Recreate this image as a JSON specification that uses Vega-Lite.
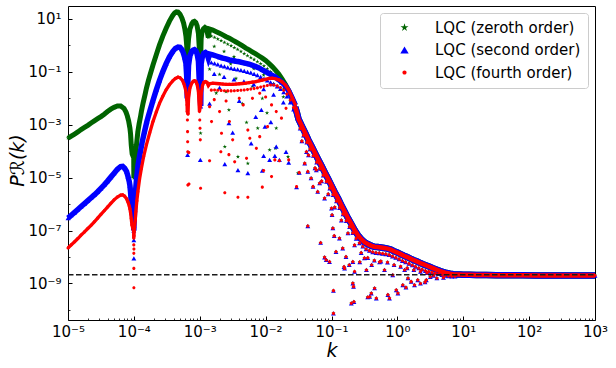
{
"$schema": "https://vega.github.io/schema/vega-lite/v6.json",
"width": 527, "height": 314,
"autosize": {"type": "none"},
"padding": {"left": 68, "top": 6, "right": 21, "bottom": 48},
"background": "white",
"config": {
 "view": {"stroke": "black", "strokeWidth": 1},
 "font": "DejaVu Sans",
 "axis": {"grid": false, "domain": false, "labelFont": "DejaVu Sans", "labelFontSize": 15, "labelColor": "black", "tickColor": "black", "titleFont": "DejaVu Sans", "titleColor": "black", "titleFontWeight": "normal"},
 "range": {"category": ["#006400", "#0000ff", "#ff0000"], "symbol": ["M0,-1L0.22,-0.31L0.95,-0.31L0.36,0.12L0.59,0.81L0,0.38L-0.59,0.81L-0.36,0.12L-0.95,-0.31L-0.22,-0.31Z", "triangle-up", "M-0.5,0A0.5,0.5,0,1,0,0.5,0A0.5,0.5,0,1,0,-0.5,0Z"]},
 "legend": {"orient": "top-right", "offset": 7, "padding": 7, "strokeColor": "#cccccc", "fillColor": "white", "cornerRadius": 3, "labelFont": "DejaVu Sans", "labelFontSize": 15, "labelColor": "black", "labelOffset": 23, "symbolOffset": 10, "symbolSize": 70, "rowPadding": 6.5, "symbolStrokeWidth": 0, "labelLimit": 0}
},
"datasets": {
"zl": [
{"k":1e-5,"p":3.09e-4},{"k":1.12e-5,"p":3.72e-4},{"k":1.26e-5,"p":4.47e-4},{"k":1.41e-5,"p":5.37e-4},{"k":1.58e-5,"p":6.61e-4},{"k":1.78e-5,"p":7.94e-4},{"k":2e-5,"p":9.55e-4},{"k":2.24e-5,"p":1.17e-3},{"k":2.51e-5,"p":1.41e-3},{"k":2.82e-5,"p":1.7e-3},{"k":3.16e-5,"p":2.04e-3},{"k":3.55e-5,"p":2.51e-3},{"k":3.98e-5,"p":3.16e-3},{"k":4.47e-5,"p":3.89e-3},{"k":5.01e-5,"p":4.57e-3},{"k":5.62e-5,"p":5.13e-3},{"k":6.31e-5,"p":5.13e-3},{"k":7.08e-5,"p":4.17e-3},{"k":7.59e-5,"p":3.02e-3},{"k":7.94e-5,"p":2.19e-3},{"k":8.32e-5,"p":1.41e-3},{"k":8.71e-5,"p":7.41e-4},{"k":8.91e-5,"p":4.47e-4},{"k":9.12e-5,"p":1.74e-4},{"k":9.42e-5,"p":7.9e-5},
{"k":9.95e-5,"p":5.62e-5},{"k":9.97e-5,"p":2.51e-5},{"k":1e-4,"p":9.55e-6},{"k":1.002e-4,"p":1.78e-5},{"k":1.004e-4,"p":3.55e-5},
{"k":1.035e-4,"p":3.55e-5},{"k":1.07e-4,"p":9.55e-5},{"k":1.11e-4,"p":2.4e-4},{"k":1.15e-4,"p":5.5e-4},{"k":1.2e-4,"p":1.07e-3},{"k":1.26e-4,"p":2e-3},{"k":1.3e-4,"p":3.16e-3},{"k":1.38e-4,"p":6.61e-3},{"k":1.48e-4,"p":1.41e-2},{"k":1.55e-4,"p":2.4e-2},{"k":1.66e-4,"p":4.68e-2},{"k":1.78e-4,"p":8.51e-2},{"k":1.95e-4,"p":0.182},{"k":2.14e-4,"p":0.372},{"k":2.29e-4,"p":0.631},{"k":2.45e-4,"p":1.05},{"k":2.75e-4,"p":2.24},{"k":3.09e-4,"p":4.47},{"k":3.47e-4,"p":8.32},{"k":3.89e-4,"p":13.5},{"k":4.17e-4,"p":17},{"k":4.42e-4,"p":18.6},{"k":4.68e-4,"p":18.2},{"k":5.01e-4,"p":15.1},{"k":5.37e-4,"p":10.7},{"k":5.69e-4,"p":6.92},{"k":5.96e-4,"p":3.98},{"k":6.17e-4,"p":2.24},
{"k":6.34e-4,"p":1},{"k":6.43e-4,"p":0.355},{"k":6.55e-4,"p":0.63},
{"k":6.76e-4,"p":1.78},{"k":7.08e-4,"p":4.17},{"k":7.59e-4,"p":6.61},{"k":7.94e-4,"p":7.76},{"k":8.32e-4,"p":8.13},{"k":8.71e-4,"p":7.41},{"k":9.12e-4,"p":5.5},{"k":9.55e-4,"p":2.82},
{"k":9.89e-4,"p":0.631},{"k":1.02e-3,"p":0.1},
{"k":1.05e-3,"p":1.78},{"k":1.08e-3,"p":3.16},{"k":1.14e-3,"p":4.27},{"k":1.2e-3,"p":4.79},{"k":1.26e-3,"p":4.37},{"k":1.3e-3,"p":3.16},{"k":1.35e-3,"p":2},
{"k":1.41e-3,"p":4.17},{"k":1.58e-3,"p":3.8},{"k":1.78e-3,"p":3.31},{"k":2e-3,"p":2.88},{"k":2.24e-3,"p":2.51},{"k":2.51e-3,"p":2.14},{"k":2.82e-3,"p":1.86},{"k":3.16e-3,"p":1.58},{"k":3.55e-3,"p":1.35},{"k":3.98e-3,"p":1.15},{"k":4.47e-3,"p":0.955},{"k":5.01e-3,"p":0.794},{"k":5.62e-3,"p":0.676},{"k":6.31e-3,"p":0.562},{"k":7.08e-3,"p":0.479},{"k":7.94e-3,"p":0.398},{"k":8.91e-3,"p":0.331},{"k":1e-2,"p":0.269},{"k":1.12e-2,"p":0.209},{"k":1.26e-2,"p":0.158},{"k":1.41e-2,"p":0.117},{"k":1.58e-2,"p":8.32e-2},{"k":1.78e-2,"p":5.37e-2},{"k":2e-2,"p":3.31e-2},{"k":2.24e-2,"p":1.95e-2},{"k":2.51e-2,"p":1.05e-2},{"k":2.82e-2,"p":5.5e-3}
],
"z": [
{"k":1.03e-3,"p":4.79e-4},
{"k":1.5e-3,"p":2.24},{"k":1.68e-3,"p":2},{"k":1.88e-3,"p":1.74},{"k":2.11e-3,"p":1.51},{"k":2.37e-3,"p":1.3},{"k":2.66e-3,"p":1.12},{"k":2.99e-3,"p":0.966},{"k":3.35e-3,"p":0.822},{"k":3.76e-3,"p":0.7},{"k":4.22e-3,"p":0.589},{"k":4.73e-3,"p":0.49},{"k":5.31e-3,"p":0.412},{"k":5.96e-3,"p":0.347},{"k":6.68e-3,"p":0.292},{"k":7.5e-3,"p":0.245},{"k":8.41e-3,"p":0.204},{"k":9.44e-3,"p":0.168},{"k":1.06e-2,"p":0.133},{"k":1.19e-2,"p":0.102},{"k":1.33e-2,"p":7.67e-2},{"k":1.5e-2,"p":5.62e-2},{"k":1.68e-2,"p":3.76e-2},{"k":1.88e-2,"p":2.37e-2},{"k":2.11e-2,"p":1.43e-2},{"k":2.37e-2,"p":8.04e-3},{"k":2.66e-2,"p":4.27e-3},
{"k":1.66e-3,"p":0.912},{"k":2.34e-3,"p":0.589},{"k":3.31e-3,"p":0.372},{"k":4.68e-3,"p":0.224},{"k":6.61e-3,"p":0.132},{"k":9.33e-3,"p":7.59e-2},{"k":1.32e-2,"p":3.55e-2},{"k":1.86e-2,"p":1.12e-2},
{"k":2.77e-3,"p":3.63e-3},{"k":2.4e-3,"p":1.48e-4},{"k":3.8e-3,"p":6.17e-5},{"k":5.37e-3,"p":3.47e-5},{"k":5.13e-3,"p":1.23e-3},{"k":1.45e-2,"p":7.41e-4},{"k":1.15e-2,"p":1.12e-4},{"k":1.41e-2,"p":1.29e-4},{"k":2.19e-2,"p":6.17e-5},{"k":3.09e-2,"p":1.48e-5},{"k":7.59e-3,"p":7.41e-4},{"k":2e-3,"p":7.94e-2},{"k":3.55e-3,"p":5.62e-2},{"k":6.31e-3,"p":2.82e-2},{"k":8.91e-3,"p":1e-2},{"k":2.51e-3,"p":1.78e-2},{"k":4.47e-3,"p":6.31e-3},{"k":1.05e-2,"p":2.82e-3},{"k":1.78e-3,"p":1.58e-2},{"k":1.41e-3,"p":0.126},{"k":2.95e-3,"p":0.2}
],
"sl": [
{"k":1e-5,"p":2.95e-7},{"k":1.12e-5,"p":3.8e-7},{"k":1.26e-5,"p":4.9e-7},{"k":1.41e-5,"p":6.31e-7},{"k":1.58e-5,"p":8.13e-7},{"k":1.78e-5,"p":1.05e-6},{"k":2e-5,"p":1.35e-6},{"k":2.24e-5,"p":1.74e-6},{"k":2.51e-5,"p":2.24e-6},{"k":2.82e-5,"p":2.95e-6},{"k":3.16e-5,"p":3.98e-6},{"k":3.55e-5,"p":5.37e-6},{"k":3.98e-5,"p":7.41e-6},{"k":4.47e-5,"p":1.05e-5},{"k":5.01e-5,"p":1.48e-5},{"k":5.62e-5,"p":2.09e-5},{"k":6.31e-5,"p":2.63e-5},{"k":6.76e-5,"p":2.69e-5},{"k":7.24e-5,"p":2.29e-5},{"k":7.76e-5,"p":1.7e-5},{"k":8.13e-5,"p":1.12e-5},{"k":8.51e-5,"p":7.08e-6},{"k":8.71e-5,"p":5.01e-6},{"k":8.91e-5,"p":2.82e-6},{"k":9.12e-5,"p":1.23e-6},{"k":9.33e-5,"p":5.01e-7},
{"k":9.94e-5,"p":2.51e-7},{"k":9.97e-5,"p":1e-7},{"k":1.003e-4,"p":1.58e-7},
{"k":1.02e-4,"p":4.47e-7},{"k":1.05e-4,"p":1.58e-6},{"k":1.07e-4,"p":4.17e-6},{"k":1.1e-4,"p":9.55e-6},{"k":1.16e-4,"p":3.02e-5},{"k":1.23e-4,"p":7.24e-5},{"k":1.33e-4,"p":2.09e-4},{"k":1.45e-4,"p":5.5e-4},{"k":1.58e-4,"p":1.38e-3},{"k":1.74e-4,"p":3.16e-3},{"k":1.95e-4,"p":8.32e-3},{"k":2.19e-4,"p":2.09e-2},{"k":2.45e-4,"p":4.79e-2},{"k":2.75e-4,"p":0.102},{"k":3.09e-4,"p":0.204},{"k":3.47e-4,"p":0.372},{"k":3.89e-4,"p":0.589},{"k":4.27e-4,"p":0.776},{"k":4.68e-4,"p":0.871},{"k":5.01e-4,"p":0.851},{"k":5.37e-4,"p":0.692},{"k":5.62e-4,"p":0.525},{"k":5.89e-4,"p":0.355},{"k":6.17e-4,"p":0.209},
{"k":6.35e-4,"p":6.31e-2},{"k":6.46e-4,"p":1e-2},{"k":6.61e-4,"p":3.98e-2},
{"k":6.76e-4,"p":0.178},{"k":7.08e-4,"p":0.398},{"k":7.59e-4,"p":0.603},{"k":7.94e-4,"p":0.661},{"k":8.32e-4,"p":0.692},{"k":8.71e-4,"p":0.631},{"k":9.12e-4,"p":0.479},{"k":9.55e-4,"p":0.251},
{"k":9.89e-4,"p":3.16e-2},{"k":1.035e-3,"p":5.01e-3},
{"k":1.05e-3,"p":0.2},{"k":1.1e-3,"p":0.398},{"k":1.15e-3,"p":0.501},{"k":1.22e-3,"p":0.537},{"k":1.29e-3,"p":0.479},{"k":1.35e-3,"p":0.331},
{"k":1.41e-3,"p":0.468},{"k":1.58e-3,"p":0.437},{"k":1.78e-3,"p":0.398},{"k":2e-3,"p":0.363},{"k":2.24e-3,"p":0.331},{"k":2.51e-3,"p":0.309},{"k":2.82e-3,"p":0.282},{"k":3.16e-3,"p":0.269},{"k":3.55e-3,"p":0.251},{"k":3.98e-3,"p":0.24},{"k":4.47e-3,"p":0.224},{"k":5.01e-3,"p":0.209},{"k":5.62e-3,"p":0.195},{"k":6.31e-3,"p":0.178},{"k":7.08e-3,"p":0.158},{"k":7.94e-3,"p":0.141},{"k":8.91e-3,"p":0.12},{"k":1e-2,"p":0.102},{"k":1.12e-2,"p":8.71e-2},{"k":1.26e-2,"p":7.41e-2},{"k":1.41e-2,"p":6.31e-2},{"k":1.58e-2,"p":5.13e-2},{"k":1.78e-2,"p":3.98e-2},{"k":2e-2,"p":2.95e-2},{"k":2.24e-2,"p":1.91e-2},{"k":2.51e-2,"p":1.05e-2},{"k":2.82e-2,"p":5.5e-3}
],
"s": [
{"k":9.99e-5,"p":4.37e-8},{"k":1e-4,"p":8.91e-9},{"k":6.53e-4,"p":7.24e-5},{"k":1.02e-3,"p":4.68e-5},
{"k":1.5e-3,"p":0.226},{"k":1.68e-3,"p":0.209},{"k":1.88e-3,"p":0.191},{"k":2.11e-3,"p":0.174},{"k":2.37e-3,"p":0.16},{"k":2.66e-3,"p":0.148},{"k":2.99e-3,"p":0.138},{"k":3.35e-3,"p":0.13},{"k":3.76e-3,"p":0.123},{"k":4.22e-3,"p":0.116},{"k":4.73e-3,"p":0.108},{"k":5.31e-3,"p":0.101},{"k":5.96e-3,"p":9.33e-2},{"k":6.68e-3,"p":8.41e-2},{"k":7.5e-3,"p":7.5e-2},{"k":8.41e-3,"p":6.53e-2},{"k":9.44e-3,"p":5.56e-2},{"k":1.06e-2,"p":4.73e-2},{"k":1.19e-2,"p":4.03e-2},{"k":1.33e-2,"p":3.43e-2},{"k":1.5e-2,"p":2.85e-2},{"k":1.68e-2,"p":2.26e-2},{"k":1.88e-2,"p":1.72e-2},{"k":2.11e-2,"p":1.19e-2},{"k":2.37e-2,"p":7.08e-3},{"k":2.66e-2,"p":3.8e-3},
{"k":1.66e-3,"p":8.32e-2},{"k":2.34e-3,"p":6.46e-2},{"k":3.31e-3,"p":5.25e-2},{"k":4.68e-3,"p":4.37e-2},{"k":6.61e-3,"p":3.39e-2},{"k":9.33e-3,"p":2.24e-2},{"k":1.32e-2,"p":1.38e-2},{"k":1.86e-2,"p":7.08e-3},
{"k":2.4e-3,"p":3.24e-5},{"k":3.8e-3,"p":1.95e-5},{"k":5.37e-3,"p":1.48e-5},{"k":2.77e-3,"p":1.15e-3},{"k":8.61e-3,"p":3.63e-3},{"k":9.77e-3,"p":8.51e-4},{"k":1.15e-2,"p":4.68e-5},{"k":1.45e-2,"p":1.48e-4},{"k":2.04e-2,"p":9.55e-5},{"k":2.95e-2,"p":4.37e-6},{"k":3.24e-2,"p":1.55e-5},{"k":8.91e-3,"p":1.86e-5},{"k":9.33e-3,"p":6.61e-5},{"k":1.38e-2,"p":6.61e-5},{"k":1.62e-2,"p":4.68e-5},{"k":2.24e-2,"p":3.72e-5},{"k":2e-3,"p":2.51e-2},{"k":3.98e-3,"p":7.94e-3},{"k":7.08e-3,"p":2e-3},{"k":1.41e-3,"p":6.31e-3},{"k":3.16e-3,"p":5.01e-4},{"k":1.2e-2,"p":1.26e-3},{"k":6.03e-3,"p":2e-4}
],
"fl": [
{"k":1e-5,"p":2.19e-8},{"k":1.12e-5,"p":2.88e-8},{"k":1.26e-5,"p":3.8e-8},{"k":1.41e-5,"p":5.01e-8},{"k":1.58e-5,"p":6.76e-8},{"k":1.78e-5,"p":8.91e-8},{"k":2e-5,"p":1.2e-7},{"k":2.24e-5,"p":1.58e-7},{"k":2.51e-5,"p":2.14e-7},{"k":2.82e-5,"p":2.95e-7},{"k":3.16e-5,"p":4.07e-7},{"k":3.55e-5,"p":5.62e-7},{"k":3.98e-5,"p":7.76e-7},{"k":4.47e-5,"p":1.07e-6},{"k":5.01e-5,"p":1.45e-6},{"k":5.62e-5,"p":1.86e-6},{"k":6.31e-5,"p":2.19e-6},{"k":6.76e-5,"p":2.24e-6},{"k":7.24e-5,"p":2e-6},{"k":7.76e-5,"p":1.58e-6},{"k":8.13e-5,"p":1.2e-6},{"k":8.51e-5,"p":8.51e-7},{"k":8.71e-5,"p":6.61e-7},{"k":8.91e-5,"p":4.68e-7},{"k":9.12e-5,"p":2.88e-7},{"k":9.33e-5,"p":1.62e-7},
{"k":9.93e-5,"p":9.12e-8},{"k":9.95e-5,"p":5.13e-8},{"k":1.004e-4,"p":6.31e-8},
{"k":1.02e-4,"p":1.26e-7},{"k":1.05e-4,"p":2.51e-7},{"k":1.07e-4,"p":5.13e-7},{"k":1.11e-4,"p":1.32e-6},{"k":1.15e-4,"p":2.95e-6},{"k":1.22e-4,"p":8.91e-6},{"k":1.3e-4,"p":2.24e-5},{"k":1.41e-4,"p":6.46e-5},{"k":1.55e-4,"p":1.74e-4},{"k":1.74e-4,"p":5.01e-4},{"k":1.95e-4,"p":1.32e-3},{"k":2.19e-4,"p":3.02e-3},{"k":2.45e-4,"p":6.46e-3},{"k":2.75e-4,"p":1.2e-2},{"k":3.09e-4,"p":2.09e-2},{"k":3.47e-4,"p":3.24e-2},{"k":3.89e-4,"p":4.57e-2},{"k":4.27e-4,"p":5.62e-2},{"k":4.68e-4,"p":6.31e-2},{"k":5.01e-4,"p":6.03e-2},{"k":5.43e-4,"p":4.9e-2},{"k":5.75e-4,"p":3.55e-2},{"k":6.1e-4,"p":2.09e-2},{"k":6.31e-4,"p":1.12e-2},
{"k":6.42e-4,"p":5.62e-3},{"k":6.46e-4,"p":3.16e-3},{"k":6.64e-4,"p":2.51e-3},
{"k":6.76e-4,"p":1e-2},{"k":7.08e-4,"p":2.4e-2},{"k":7.59e-4,"p":3.8e-2},{"k":7.94e-4,"p":4.37e-2},{"k":8.32e-4,"p":4.57e-2},{"k":8.71e-4,"p":4.37e-2},{"k":9.12e-4,"p":3.31e-2},{"k":9.55e-4,"p":1.78e-2},
{"k":9.9e-4,"p":3.16e-3},{"k":1.04e-3,"p":6.31e-3},
{"k":1.05e-3,"p":1.41e-2},{"k":1.1e-3,"p":3.02e-2},{"k":1.15e-3,"p":3.98e-2},{"k":1.22e-3,"p":4.27e-2},{"k":1.29e-3,"p":3.98e-2},{"k":1.35e-3,"p":3.02e-2},
{"k":1.41e-3,"p":3.55e-2},{"k":1.58e-3,"p":3.72e-2},{"k":1.78e-3,"p":3.63e-2},{"k":2e-3,"p":3.55e-2},{"k":2.24e-3,"p":3.47e-2},{"k":2.51e-3,"p":3.39e-2},{"k":2.82e-3,"p":3.39e-2},{"k":3.16e-3,"p":3.39e-2},{"k":3.55e-3,"p":3.47e-2},{"k":3.98e-3,"p":3.55e-2},{"k":4.47e-3,"p":3.63e-2},{"k":5.01e-3,"p":3.72e-2},{"k":5.62e-3,"p":3.89e-2},{"k":6.31e-3,"p":4.07e-2},{"k":7.08e-3,"p":4.27e-2},{"k":7.94e-3,"p":4.57e-2},{"k":8.91e-3,"p":4.9e-2},{"k":1e-2,"p":5.25e-2},{"k":1.12e-2,"p":5.62e-2},{"k":1.26e-2,"p":5.75e-2},{"k":1.41e-2,"p":5.5e-2},{"k":1.58e-2,"p":5.01e-2},{"k":1.78e-2,"p":4.17e-2},{"k":2e-2,"p":3.16e-2},{"k":2.24e-2,"p":2.09e-2},{"k":2.51e-2,"p":1.12e-2},{"k":2.82e-2,"p":5.75e-3}
],
"f": [
{"k":9.97e-5,"p":2.88e-8},{"k":9.98e-5,"p":1.38e-8},{"k":9.99e-5,"p":3.72e-9},{"k":1e-4,"p":6.92e-10},{"k":1.002e-4,"p":2e-8},
{"k":6.5e-4,"p":1.51e-3},{"k":6.53e-4,"p":5.5e-4},{"k":6.55e-4,"p":2.29e-4},{"k":6.58e-4,"p":9.55e-5},{"k":6.6e-4,"p":5.25e-6},{"k":6.84e-4,"p":8.91e-5},{"k":6.86e-4,"p":5.75e-6},
{"k":1e-3,"p":1.51e-3},{"k":1.01e-3,"p":7.41e-4},{"k":1.02e-3,"p":2.69e-4},{"k":1.03e-3,"p":3.98e-6},
{"k":1.5e-3,"p":2.04e-2},{"k":1.68e-3,"p":2.07e-2},{"k":1.88e-3,"p":2.02e-2},{"k":2.11e-3,"p":1.97e-2},{"k":2.37e-3,"p":1.93e-2},{"k":2.66e-3,"p":1.91e-2},{"k":2.99e-3,"p":1.91e-2},{"k":3.35e-3,"p":1.93e-2},{"k":3.76e-3,"p":1.97e-2},{"k":4.22e-3,"p":2.02e-2},{"k":4.73e-3,"p":2.07e-2},{"k":5.31e-3,"p":2.14e-2},{"k":5.96e-3,"p":2.24e-2},{"k":6.68e-3,"p":2.34e-2},{"k":7.5e-3,"p":2.48e-2},{"k":8.41e-3,"p":2.66e-2},{"k":9.44e-3,"p":2.85e-2},{"k":1.06e-2,"p":3.05e-2},{"k":1.19e-2,"p":3.2e-2},{"k":1.33e-2,"p":3.16e-2},{"k":1.5e-2,"p":2.95e-2},{"k":1.68e-2,"p":2.57e-2},{"k":1.88e-2,"p":2.04e-2},{"k":2.11e-2,"p":1.45e-2},{"k":2.37e-2,"p":8.61e-3},{"k":2.66e-2,"p":4.52e-3},
{"k":1.41e-3,"p":4.37e-5},{"k":2.09e-3,"p":9.55e-5},{"k":2.4e-3,"p":2.69e-6},{"k":2.77e-3,"p":7.41e-5},{"k":3.39e-3,"p":3.98e-5},{"k":3.8e-3,"p":1.82e-6},{"k":5.13e-3,"p":5.37e-5},{"k":5.37e-3,"p":1.82e-6},{"k":8.91e-3,"p":4.37e-6},{"k":9.33e-3,"p":1.86e-5},{"k":1.23e-2,"p":1.1e-5},{"k":1.38e-2,"p":4.68e-5},{"k":1.62e-2,"p":4.37e-5},{"k":2.24e-2,"p":4.68e-5},{"k":2.95e-2,"p":4.57e-6},{"k":3.24e-2,"p":1.55e-5},{"k":1.41e-3,"p":4.79e-3},{"k":1.51e-3,"p":1.32e-3},{"k":2e-3,"p":3.16e-3},{"k":2.14e-3,"p":4.79e-4},{"k":2.82e-3,"p":1.32e-3},{"k":3.16e-3,"p":2.69e-4},{"k":4.57e-3,"p":5.62e-3},{"k":5.37e-3,"p":6.31e-4},{"k":5.75e-3,"p":3.09e-4},{"k":7.24e-3,"p":1.29e-4},{"k":8.13e-3,"p":1.55e-2},{"k":8.13e-3,"p":3.55e-4},{"k":1.07e-2,"p":8.51e-4},{"k":1.23e-2,"p":5.62e-3},{"k":1.45e-2,"p":3.16e-3},{"k":1.74e-2,"p":1.78e-3},{"k":2.04e-2,"p":4.17e-3},{"k":1.66e-3,"p":8.91e-3},{"k":2.51e-3,"p":7.94e-3},{"k":3.98e-3,"p":1e-2},{"k":6.31e-3,"p":1e-2},{"k":1e-2,"p":1.12e-2}
],
"ce": [
{"k":2.82e-2,"p":4.6e-3},{"k":3e-2,"p":2.7e-3},
{"k":3.16e-2,"p":1.62e-3},{"k":3.55e-2,"p":8.9e-4},{"k":3.98e-2,"p":4.9e-4},{"k":4.47e-2,"p":2.63e-4},{"k":5.01e-2,"p":1.51e-4},{"k":5.62e-2,"p":8.49e-5},{"k":6.31e-2,"p":4.78e-5},{"k":7.08e-2,"p":2.75e-5},{"k":7.94e-2,"p":1.55e-5},{"k":8.91e-2,"p":8.9e-6},{"k":0.1,"p":5.02e-6},{"k":0.112,"p":2.82e-6},{"k":0.126,"p":1.62e-6},{"k":0.141,"p":9.15e-7},{"k":0.158,"p":5.25e-7},{"k":0.178,"p":2.95e-7},{"k":0.2,"p":1.78e-7},{"k":0.224,"p":1.05e-7},{"k":0.251,"p":6.76e-8},{"k":0.282,"p":4.78e-8},{"k":0.316,"p":3.64e-8},{"k":0.355,"p":3.1e-8},{"k":0.398,"p":2.7e-8},{"k":0.447,"p":2.45e-8},{"k":0.501,"p":2.4e-8},{"k":0.562,"p":2.29e-8},{"k":0.631,"p":2.19e-8},{"k":0.708,"p":2.09e-8},{"k":0.794,"p":1.91e-8},{"k":0.891,"p":1.66e-8},{"k":1,"p":1.48e-8},{"k":1.12,"p":1.29e-8},{"k":1.26,"p":1.12e-8},{"k":1.41,"p":9.98e-9},{"k":1.58,"p":8.74e-9},{"k":1.78,"p":7.59e-9},{"k":2,"p":6.76e-9},{"k":2.24,"p":5.89e-9},{"k":2.51,"p":5.25e-9},{"k":2.82,"p":4.68e-9},{"k":3.16,"p":4.17e-9},{"k":3.55,"p":3.72e-9},{"k":3.98,"p":3.31e-9},{"k":4.47,"p":2.95e-9},{"k":5.01,"p":2.7e-9},{"k":5.62,"p":2.48e-9},{"k":6.31,"p":2.35e-9},{"k":7.08,"p":2.25e-9},{"k":7.94,"p":2.2e-9},{"k":8.91,"p":2.17e-9},
{"k":10,"p":2.15e-9},{"k":12.6,"p":2.12e-9},{"k":15.8,"p":2.1e-9},{"k":22.4,"p":2.09e-9},{"k":31.6,"p":2.07e-9},{"k":50.1,"p":2.05e-9},{"k":79.4,"p":2.04e-9},{"k":126,"p":2.02e-9},{"k":200,"p":2e-9},{"k":316,"p":2e-9},{"k":501,"p":2e-9},{"k":708,"p":2e-9},{"k":1000,"p":2e-9}
],
"c": [
{"k":3.35e-2,"p":7.24e-4},{"k":3.76e-2,"p":3.98e-4},{"k":4.22e-2,"p":2.14e-4},{"k":4.73e-2,"p":1.2e-4},{"k":5.31e-2,"p":6.76e-5},{"k":5.96e-2,"p":3.8e-5},{"k":6.68e-2,"p":2.19e-5},{"k":7.5e-2,"p":1.23e-5},{"k":8.41e-2,"p":7.08e-6},{"k":9.44e-2,"p":3.98e-6},{"k":0.106,"p":2.24e-6},{"k":0.119,"p":1.29e-6},{"k":0.133,"p":7.24e-7},{"k":0.15,"p":4.17e-7},{"k":0.168,"p":2.34e-7},{"k":0.188,"p":1.38e-7},{"k":0.211,"p":8.13e-8},{"k":0.237,"p":5.01e-8},{"k":0.266,"p":3.39e-8},{"k":0.299,"p":2.51e-8},{"k":0.335,"p":2e-8},{"k":0.376,"p":1.74e-8},{"k":0.422,"p":1.55e-8},{"k":0.473,"p":1.45e-8},{"k":0.531,"p":1.41e-8},{"k":0.596,"p":1.35e-8},{"k":0.668,"p":1.29e-8},{"k":0.75,"p":1.2e-8},{"k":0.841,"p":1.07e-8},{"k":0.944,"p":9.55e-9},{"k":1.06,"p":8.32e-9},{"k":1.19,"p":7.24e-9},{"k":1.33,"p":6.46e-9},{"k":1.5,"p":5.62e-9},{"k":1.68,"p":4.9e-9},{"k":1.88,"p":4.37e-9},{"k":2.11,"p":3.8e-9},{"k":2.37,"p":3.39e-9},{"k":2.66,"p":3.02e-9},{"k":2.99,"p":2.82e-9},{"k":3.35,"p":2.63e-9},{"k":3.76,"p":2.45e-9},{"k":4.22,"p":2.29e-9},{"k":4.73,"p":2.14e-9},{"k":5.31,"p":2e-9},{"k":5.96,"p":1.91e-9},{"k":6.68,"p":1.86e-9},{"k":7.5,"p":1.86e-9},
{"k":0.282,"p":1.45e-8},{"k":0.355,"p":9.33e-9},{"k":0.447,"p":7.41e-9},{"k":0.562,"p":6.92e-9},{"k":0.708,"p":6.31e-9},{"k":0.891,"p":5.01e-9},{"k":1.12,"p":4.37e-9},{"k":1.41,"p":3.8e-9},{"k":1.78,"p":3.24e-9},{"k":2.24,"p":2.82e-9},{"k":2.82,"p":2.51e-9},{"k":3.55,"p":2e-9},{"k":3.55e-2,"p":2.4e-4},{"k":4.47e-2,"p":7.08e-5},{"k":5.62e-2,"p":2.29e-5},{"k":7.08e-2,"p":7.41e-6},{"k":8.91e-2,"p":2.4e-6},{"k":0.112,"p":7.59e-7},{"k":0.141,"p":2.45e-7},{"k":0.178,"p":7.94e-8},{"k":0.224,"p":2.82e-8},
{"k":3.92e-2,"p":3.47e-5},{"k":4.17e-2,"p":9.55e-5},{"k":4.37e-2,"p":1.7e-5},{"k":4.9e-2,"p":9.55e-6},{"k":5.89e-2,"p":1.95e-5},{"k":5.25e-2,"p":4.57e-6},{"k":6.61e-2,"p":6.17e-6},{"k":7.85e-2,"p":1.66e-6},{"k":6.17e-2,"p":2.95e-6},{"k":0.1,"p":6.92e-7},{"k":0.102,"p":3.89e-7},{"k":4.37e-2,"p":1.48e-7},{"k":0.105,"p":1.23e-7},{"k":0.11,"p":6.31e-8},{"k":0.132,"p":5.13e-8},{"k":6.84e-2,"p":3.47e-8},{"k":0.117,"p":1.58e-8},{"k":7.85e-2,"p":9.77e-9},{"k":8.32e-2,"p":7.76e-9},{"k":9.33e-2,"p":6.61e-9},{"k":0.166,"p":1.02e-8},{"k":0.155,"p":4.27e-9},{"k":0.186,"p":5.01e-9},{"k":0.211,"p":6.61e-9},{"k":0.224,"p":2.82e-9},{"k":0.107,"p":5.37e-10},{"k":0.211,"p":1.02e-9},{"k":0.216,"p":7.59e-10},{"k":0.402,"p":4.27e-10},{"k":0.451,"p":6.61e-10},{"k":0.38,"p":3.16e-10},{"k":0.479,"p":2.75e-10},{"k":0.2,"p":1.78e-10},{"k":0.219,"p":2.04e-10},{"k":0.718,"p":3.72e-10},{"k":0.759,"p":2.75e-10},{"k":0.962,"p":5.62e-10},{"k":1.02,"p":4.27e-10},{"k":1.21,"p":8.71e-10},{"k":0.107,"p":7.41e-11},{"k":0.148,"p":2.14e-8},{"k":0.158,"p":3.72e-9},{"k":0.339,"p":3.24e-9},{"k":0.355,"p":3.02e-10},{"k":1.45,"p":1.58e-9},{"k":1.62,"p":1.17e-9},{"k":1.82,"p":8.71e-10},{"k":2.04,"p":1.35e-9},{"k":2.75,"p":1.35e-9},{"k":0.269,"p":6.46e-9},{"k":0.316,"p":9.12e-9},{"k":0.407,"p":5.01e-9},{"k":0.537,"p":6.46e-9},{"k":0.638,"p":3.24e-9},{"k":0.851,"p":2.09e-9},{"k":1.29,"p":3.24e-9},{"k":3.16,"p":1.78e-9},{"k":3.98,"p":1.58e-9},{"k":5.01,"p":1.66e-9},{"k":2.24,"p":1e-9},{"k":2.63,"p":1.12e-9},{"k":1.35,"p":7.08e-10}
]
},
"encoding": {
 "x": {"field": "k", "type": "quantitative", "scale": {"type": "log", "domain": [1e-5, 1000], "nice": false}, "axis": null},
 "y": {"field": "p", "type": "quantitative", "scale": {"type": "log", "domain": [4.17e-11, 30.9], "nice": false}, "axis": null}
},
"resolve": {"axis": {"x": "independent", "y": "independent"}},
"layer": [
 {"data": {"name": "zl"},
  "mark": {"type": "line", "color": "#006400", "strokeWidth": 5},
  "encoding": {
   "x": {"field": "k", "type": "quantitative", "scale": {"type": "log", "domain": [1e-5, 1000], "nice": false},
    "axis": {"orient": "bottom", "values": [1e-5, 1e-4, 1e-3, 1e-2, 0.1, 1, 10, 100, 1000], "labelExpr": "'10' + ['⁻¹⁰','⁻⁹','⁻⁸','⁻⁷','⁻⁶','⁻⁵','⁻⁴','⁻³','⁻²','⁻¹','⁰','¹','²','³'][round(log(datum.value)/LN10)+10]", "tickSize": -4, "tickWidth": 1, "labelPadding": 8, "labelFlush": false, "labelOverlap": false, "labelBound": false, "title": "k", "titleFontSize": 19, "titleFontStyle": "italic", "titleY": 36.5, "titleBaseline": "alphabetic"}},
   "y": {"field": "p", "type": "quantitative", "scale": {"type": "log", "domain": [4.17e-11, 30.9], "nice": false},
    "axis": {"orient": "left", "values": [1e-9, 1e-7, 1e-5, 1e-3, 0.1, 10], "labelExpr": "'10' + ['⁻¹⁰','⁻⁹','⁻⁸','⁻⁷','⁻⁶','⁻⁵','⁻⁴','⁻³','⁻²','⁻¹','⁰','¹','²','³'][round(log(datum.value)/LN10)+10]", "tickSize": -4, "tickWidth": 1, "labelPadding": 11, "labelFlush": false, "labelOverlap": false, "labelBound": false, "title": "Pℛ(k)", "titleFontSize": 19, "titleFontStyle": "italic", "titleX": -51, "titleY": 154, "titleAngle": -90, "titleAlign": "center", "titleBaseline": "middle"}}
  }},
 {"data": {"name": "zl"},
  "mark": {"type": "point", "filled": true, "opacity": 1, "size": 20, "strokeWidth": 0},
  "encoding": {
   "x": {"field": "k", "type": "quantitative", "scale": {"type": "log", "domain": [1e-5, 1000], "nice": false},
    "axis": {"orient": "bottom", "values": [2e-5,3e-5,4e-5,5e-5,6e-5,7e-5,8e-5,9e-5,2e-4,3e-4,4e-4,5e-4,6e-4,7e-4,8e-4,9e-4,2e-3,3e-3,4e-3,5e-3,6e-3,7e-3,8e-3,9e-3,0.02,0.03,0.04,0.05,0.06,0.07,0.08,0.09,0.2,0.3,0.4,0.5,0.6,0.7,0.8,0.9,2,3,4,5,6,7,8,9,20,30,40,50,60,70,80,90,200,300,400,500,600,700,800,900], "labels": false, "tickSize": -2, "tickWidth": 0.8, "title": null}},
   "y": {"field": "p", "type": "quantitative", "scale": {"type": "log", "domain": [4.17e-11, 30.9], "nice": false},
    "axis": {"orient": "left", "values": [1, 0.01, 1e-4, 1e-6, 1e-8, 1e-10], "labels": false, "tickSize": -2, "tickWidth": 0.8, "title": null}},
   "color": {"datum": "LQC (zeroth order)", "type": "nominal", "scale": {"domain": ["LQC (zeroth order)", "LQC (second order)", "LQC (fourth order)"]}, "title": null},
   "shape": {"datum": "LQC (zeroth order)", "type": "nominal", "scale": {"domain": ["LQC (zeroth order)", "LQC (second order)", "LQC (fourth order)"]}, "title": null}
  }},
 {"data": {"name": "z"},
  "mark": {"type": "point", "filled": true, "opacity": 1, "size": 20, "strokeWidth": 0},
  "encoding": {
   "color": {"datum": "LQC (zeroth order)", "type": "nominal", "scale": {"domain": ["LQC (zeroth order)", "LQC (second order)", "LQC (fourth order)"]}, "title": null},
   "shape": {"datum": "LQC (zeroth order)", "type": "nominal", "scale": {"domain": ["LQC (zeroth order)", "LQC (second order)", "LQC (fourth order)"]}, "title": null}
  }},
 {"data": {"name": "ce"}, "mark": {"type": "line", "color": "#006400", "strokeWidth": 6.5}},
 {"data": {"name": "ce"},
  "mark": {"type": "point", "filled": true, "opacity": 1, "size": 20, "strokeWidth": 0},
  "encoding": {
   "color": {"datum": "LQC (zeroth order)", "type": "nominal", "scale": {"domain": ["LQC (zeroth order)", "LQC (second order)", "LQC (fourth order)"]}, "title": null},
   "shape": {"datum": "LQC (zeroth order)", "type": "nominal", "scale": {"domain": ["LQC (zeroth order)", "LQC (second order)", "LQC (fourth order)"]}, "title": null}
  }},
 {"data": {"name": "c"},
  "mark": {"type": "point", "filled": true, "opacity": 1, "size": 20, "strokeWidth": 0},
  "encoding": {
   "color": {"datum": "LQC (zeroth order)", "type": "nominal", "scale": {"domain": ["LQC (zeroth order)", "LQC (second order)", "LQC (fourth order)"]}, "title": null},
   "shape": {"datum": "LQC (zeroth order)", "type": "nominal", "scale": {"domain": ["LQC (zeroth order)", "LQC (second order)", "LQC (fourth order)"]}, "title": null}
  }},
 {"data": {"name": "sl"}, "mark": {"type": "line", "color": "#0000ff", "strokeWidth": 5.5}},
 {"data": {"name": "sl"},
  "mark": {"type": "point", "filled": true, "opacity": 1, "size": 24, "strokeWidth": 0},
  "encoding": {
   "color": {"datum": "LQC (second order)", "type": "nominal", "scale": {"domain": ["LQC (zeroth order)", "LQC (second order)", "LQC (fourth order)"]}, "title": null},
   "shape": {"datum": "LQC (second order)", "type": "nominal", "scale": {"domain": ["LQC (zeroth order)", "LQC (second order)", "LQC (fourth order)"]}, "title": null}
  }},
 {"data": {"name": "s"},
  "mark": {"type": "point", "filled": true, "opacity": 1, "size": 24, "strokeWidth": 0},
  "encoding": {
   "color": {"datum": "LQC (second order)", "type": "nominal", "scale": {"domain": ["LQC (zeroth order)", "LQC (second order)", "LQC (fourth order)"]}, "title": null},
   "shape": {"datum": "LQC (second order)", "type": "nominal", "scale": {"domain": ["LQC (zeroth order)", "LQC (second order)", "LQC (fourth order)"]}, "title": null}
  }},
 {"data": {"name": "ce"}, "mark": {"type": "line", "color": "#0000ff", "strokeWidth": 6.5}},
 {"data": {"name": "ce"},
  "mark": {"type": "point", "filled": true, "opacity": 1, "size": 24, "strokeWidth": 0},
  "encoding": {
   "color": {"datum": "LQC (second order)", "type": "nominal", "scale": {"domain": ["LQC (zeroth order)", "LQC (second order)", "LQC (fourth order)"]}, "title": null},
   "shape": {"datum": "LQC (second order)", "type": "nominal", "scale": {"domain": ["LQC (zeroth order)", "LQC (second order)", "LQC (fourth order)"]}, "title": null}
  }},
 {"data": {"name": "c"},
  "mark": {"type": "point", "filled": true, "opacity": 1, "size": 24, "strokeWidth": 0},
  "encoding": {
   "color": {"datum": "LQC (second order)", "type": "nominal", "scale": {"domain": ["LQC (zeroth order)", "LQC (second order)", "LQC (fourth order)"]}, "title": null},
   "shape": {"datum": "LQC (second order)", "type": "nominal", "scale": {"domain": ["LQC (zeroth order)", "LQC (second order)", "LQC (fourth order)"]}, "title": null}
  }},
 {"data": {"name": "fl"}, "mark": {"type": "line", "color": "#ff0000", "strokeWidth": 3.3}},
 {"data": {"name": "fl"},
  "mark": {"type": "point", "filled": true, "opacity": 1, "size": 40, "strokeWidth": 0},
  "encoding": {
   "color": {"datum": "LQC (fourth order)", "type": "nominal", "scale": {"domain": ["LQC (zeroth order)", "LQC (second order)", "LQC (fourth order)"]}, "title": null},
   "shape": {"datum": "LQC (fourth order)", "type": "nominal", "scale": {"domain": ["LQC (zeroth order)", "LQC (second order)", "LQC (fourth order)"]}, "title": null}
  }},
 {"data": {"name": "f"},
  "mark": {"type": "point", "filled": true, "opacity": 1, "size": 40, "strokeWidth": 0},
  "encoding": {
   "color": {"datum": "LQC (fourth order)", "type": "nominal", "scale": {"domain": ["LQC (zeroth order)", "LQC (second order)", "LQC (fourth order)"]}, "title": null},
   "shape": {"datum": "LQC (fourth order)", "type": "nominal", "scale": {"domain": ["LQC (zeroth order)", "LQC (second order)", "LQC (fourth order)"]}, "title": null}
  }},
 {"data": {"name": "ce"}, "mark": {"type": "line", "color": "#ff0000", "strokeWidth": 4.5}},
 {"data": {"name": "ce"},
  "mark": {"type": "point", "filled": true, "opacity": 1, "size": 40, "strokeWidth": 0},
  "encoding": {
   "color": {"datum": "LQC (fourth order)", "type": "nominal", "scale": {"domain": ["LQC (zeroth order)", "LQC (second order)", "LQC (fourth order)"]}, "title": null},
   "shape": {"datum": "LQC (fourth order)", "type": "nominal", "scale": {"domain": ["LQC (zeroth order)", "LQC (second order)", "LQC (fourth order)"]}, "title": null}
  }},
 {"data": {"name": "c"},
  "mark": {"type": "point", "filled": true, "opacity": 1, "size": 40, "strokeWidth": 0},
  "encoding": {
   "color": {"datum": "LQC (fourth order)", "type": "nominal", "scale": {"domain": ["LQC (zeroth order)", "LQC (second order)", "LQC (fourth order)"]}, "title": null},
   "shape": {"datum": "LQC (fourth order)", "type": "nominal", "scale": {"domain": ["LQC (zeroth order)", "LQC (second order)", "LQC (fourth order)"]}, "title": null}
  }},
 {"data": {"values": [{"k": 1e-5, "k2": 1000, "p": 2.15e-9}]},
  "mark": {"type": "rule", "color": "#1a1a1a", "strokeWidth": 1.4, "strokeDash": [5.5, 2.5]},
  "encoding": {"x2": {"field": "k2"}}}
]
}
